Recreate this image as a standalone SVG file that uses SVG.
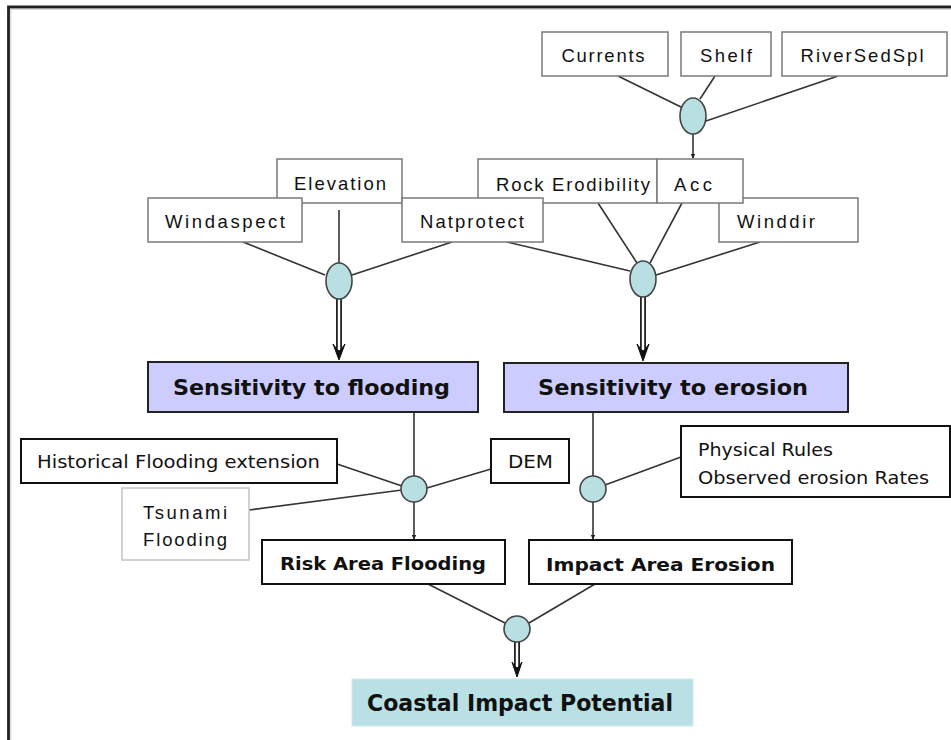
<svg xmlns="http://www.w3.org/2000/svg" width="951" height="740" viewBox="0 0 951 740">
<style>
.bx{fill:#fff;stroke:#7a7a7a;stroke-width:1.5}
.bk{fill:#fff;stroke:#111;stroke-width:2}
.sens{fill:#ccccff;stroke:#222;stroke-width:2}
.tl{font-family:"Liberation Sans",Arial,sans-serif;font-size:18.5px;fill:#111;text-anchor:middle}
.tv{font-family:"DejaVu Sans","Liberation Sans",sans-serif;font-size:17px;fill:#111}
.tb{font-family:"DejaVu Sans","Liberation Sans",sans-serif;font-weight:bold;fill:#111}
.ln{stroke:#333;stroke-width:1.6;fill:none}
.nd{fill:#b8e0e2;stroke:#444;stroke-width:1.6}
.dbo{stroke:#222;stroke-width:6;fill:none}
.dbi{stroke:#fff;stroke-width:2.4;fill:none}
</style>
<defs>
<marker id="sm" viewBox="0 0 10 10" refX="9" refY="5" markerWidth="5" markerHeight="5" orient="auto" markerUnits="userSpaceOnUse">
<path d="M0,0 L10,5 L0,10 Z" fill="#222"/>
</marker>
</defs>
<rect width="951" height="740" fill="#fff"/>
<path d="M8.5 740 V7 H951" fill="none" stroke="#222" stroke-width="2.8"/>
<path d="M10.8 740 V9.3 H951" fill="none" stroke="#ccc" stroke-width="1"/>

<g id="connectors">
<line class="ln" x1="618" y1="76" x2="683" y2="108"/>
<line class="ln" x1="715" y1="76" x2="700" y2="99"/>
<line class="ln" x1="838" y1="76" x2="706" y2="121"/>
<line class="ln" x1="693" y1="134" x2="693" y2="158" stroke-width="2" marker-end="url(#sm)"/>
<line class="ln" x1="598" y1="203" x2="637" y2="263"/>
<line class="ln" x1="682" y1="203" x2="650" y2="263"/>
<line class="ln" x1="760" y1="242" x2="656" y2="275"/>
<line class="ln" x1="507" y1="242" x2="630" y2="271"/>
<line class="ln" x1="339" y1="210" x2="339" y2="264" stroke="#111" stroke-width="2.2"/>
<line class="ln" x1="243" y1="242" x2="325" y2="275"/>
<line class="ln" x1="452" y1="242" x2="352" y2="275"/>
<line class="dbo" x1="339" y1="299" x2="339" y2="352"/>
<line class="dbi" x1="339" y1="299" x2="339" y2="350"/>
<path d="M333 344 L339 360 L345 344 L339 352 Z" fill="#111" stroke="#111" stroke-width="1"/>
<line class="dbo" x1="643" y1="296" x2="643" y2="352"/>
<line class="dbi" x1="643" y1="296" x2="643" y2="350"/>
<path d="M637 344 L643 361 L649 344 L643 352 Z" fill="#111" stroke="#111" stroke-width="1"/>
<line class="ln" x1="414" y1="412" x2="414" y2="476" stroke-width="2"/>
<line class="ln" x1="337" y1="464" x2="402" y2="486"/>
<line class="ln" x1="249" y1="510" x2="402" y2="490"/>
<line class="ln" x1="491" y1="469" x2="427" y2="488"/>
<line class="ln" x1="414" y1="502" x2="414" y2="539" stroke-width="2" marker-end="url(#sm)"/>
<line class="ln" x1="593" y1="412" x2="593" y2="476" stroke-width="2"/>
<line class="ln" x1="681" y1="457" x2="605" y2="485"/>
<line class="ln" x1="593" y1="502" x2="593" y2="539" stroke-width="2" marker-end="url(#sm)"/>
<line class="ln" x1="428" y1="584" x2="505" y2="623"/>
<line class="ln" x1="595" y1="584" x2="529" y2="623"/>
<line class="dbo" x1="517" y1="642" x2="517" y2="669"/>
<line class="dbi" x1="517" y1="642" x2="517" y2="667"/>
<path d="M512 662 L517 677 L522 662 L517 669 Z" fill="#111" stroke="#111" stroke-width="1"/>
</g>

<g id="currents"><rect class="bx" x="542" y="32" width="126" height="44"/><text class="tl" x="603" y="62" textLength="83">Currents</text></g>
<g id="shelf"><rect class="bx" x="681" y="32" width="90" height="44"/><text class="tl" x="726" y="62" textLength="52">Shelf</text></g>
<g id="riversedspl"><rect class="bx" x="782" y="32" width="165" height="44"/><text class="tl" x="862" y="62" textLength="123">RiverSedSpl</text></g>
<g id="node-acc-join"><ellipse class="nd" cx="693" cy="116" rx="13" ry="18"/></g>

<g id="elevation"><rect class="bx" x="277" y="159" width="125" height="44"/><text class="tl" x="340" y="190" textLength="92">Elevation</text></g>
<g id="rock-erodibility"><rect class="bx" x="478" y="159" width="179" height="44"/><text class="tl" x="573" y="191" textLength="154">Rock Erodibility</text></g>
<g id="winddir"><rect class="bx" x="719" y="198" width="139" height="44"/><text class="tl" x="776" y="228" textLength="78">Winddir</text></g>
<g id="acc"><rect class="bx" x="657" y="159" width="86" height="44"/><text class="tl" x="693" y="191" textLength="38">Acc</text></g>
<g id="windaspect"><rect class="bx" x="148" y="198" width="154" height="44"/><text class="tl" x="225" y="228" textLength="120">Windaspect</text></g>
<g id="natprotect"><rect class="bx" x="402" y="198" width="141" height="44"/><text class="tl" x="472" y="228" textLength="104">Natprotect</text></g>

<g id="node-flood-join"><ellipse class="nd" cx="339" cy="281" rx="13" ry="18"/></g>
<g id="node-erosion-join"><ellipse class="nd" cx="643" cy="279" rx="13" ry="18"/></g>

<g id="sensitivity-flooding"><rect class="sens" x="148" y="362" width="330" height="50"/><text class="tb" x="173" y="395" font-size="22" textLength="277" lengthAdjust="spacingAndGlyphs">Sensitivity to flooding</text></g>
<g id="sensitivity-erosion"><rect class="sens" x="504" y="363" width="344" height="49"/><text class="tb" x="538" y="395" font-size="22" textLength="270" lengthAdjust="spacingAndGlyphs">Sensitivity to erosion</text></g>

<g id="historical"><rect class="bk" x="21" y="439" width="316" height="44" stroke-width="1.8"/><text class="tv" x="37" y="468" textLength="283" lengthAdjust="spacingAndGlyphs">Historical Flooding extension</text></g>
<g id="tsunami"><rect x="122" y="488" width="127" height="72" fill="#fff" stroke="#c4c4c4" stroke-width="1.5"/><text class="tl" x="185" y="519" textLength="84">Tsunami</text><text class="tl" x="185" y="546" textLength="84">Flooding</text></g>
<g id="dem"><rect class="bk" x="491" y="439" width="78" height="44" stroke-width="1.8"/><text class="tv" x="508" y="468" textLength="45" lengthAdjust="spacingAndGlyphs">DEM</text></g>
<g id="physical"><rect class="bk" x="681" y="426" width="269" height="71" stroke-width="1.8"/><text class="tv" x="698" y="456" textLength="135" lengthAdjust="spacingAndGlyphs">Physical Rules</text><text class="tv" x="698" y="484" textLength="231" lengthAdjust="spacingAndGlyphs">Observed erosion Rates</text></g>

<g id="node-risk-join"><circle class="nd" cx="414" cy="489" r="13"/></g>
<g id="node-impact-join"><circle class="nd" cx="593" cy="489" r="13"/></g>

<g id="risk-area-flooding"><rect class="bk" x="262" y="540" width="243" height="44"/><text class="tb" x="280" y="570" font-size="18" textLength="206" lengthAdjust="spacingAndGlyphs">Risk Area Flooding</text></g>
<g id="impact-area-erosion"><rect class="bk" x="529" y="540" width="263" height="44"/><text class="tb" x="546" y="571" font-size="18" textLength="229" lengthAdjust="spacingAndGlyphs">Impact Area Erosion</text></g>

<g id="node-coastal-join"><circle class="nd" cx="517" cy="629" r="13"/></g>

<g id="coastal-impact-potential"><rect x="352" y="679" width="341" height="47" fill="#b9e0e4" stroke="#cfe9ec" stroke-width="1"/><text class="tb" x="367" y="711" font-size="23" textLength="306" lengthAdjust="spacingAndGlyphs">Coastal Impact Potential</text></g>
</svg>
